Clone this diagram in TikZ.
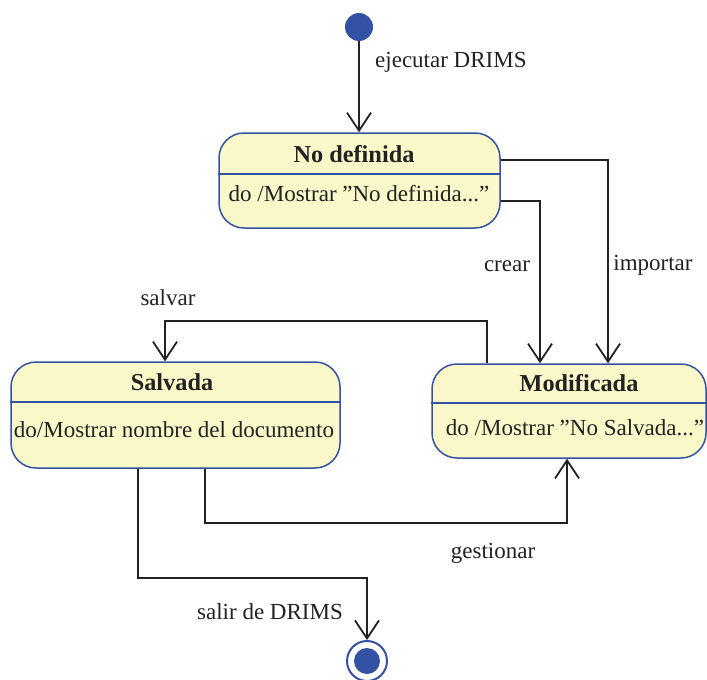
\documentclass[tikz,border=0pt]{standalone}
\usepackage{fontspec}
\setmainfont{LiberationSerif}[
  Extension=.ttf,
  UprightFont=*-Regular,
  BoldFont=*-Bold,
  ItalicFont=*-Italic,
  BoldItalicFont=*-BoldItalic,
  Ligatures=NoCommon]
\usetikzlibrary{arrows.meta}
\definecolor{stateblue}{RGB}{52,82,163}
\definecolor{statefill}{RGB}{250,247,201}
\definecolor{ink}{RGB}{34,34,34}
\tikzset{
  statebox/.style={draw=stateblue, line width=1.5pt, fill=statefill, rounded corners=25pt, inner sep=0pt},
  sepline/.style={draw=stateblue, line width=1.5pt},
  title/.style={font=\fontsize{24.3}{28}\selectfont\bfseries, text=ink, inner sep=0pt},
  body/.style={font=\fontsize{23}{26}\selectfont, text=ink, inner sep=0pt},
  lbl/.style={font=\fontsize{23}{26}\selectfont, text=ink, inner sep=0pt},
  arr/.style={draw=ink, line width=1.8pt, -{Straight Barb[length=18pt,width=24pt,line width=1.8pt]}}
}
\newcommand{\dq}{\char34\relax}
\begin{document}
\begin{tikzpicture}[x=1pt,y=-1pt]
\useasboundingbox (0,0) rectangle (707,680);

% initial and final pseudo-states
\node[circle, fill=stateblue, minimum size=28pt, inner sep=0pt] (init) at (359,27) {};
\node[circle, draw=stateblue, line width=2pt, fill=white, minimum size=40pt, inner sep=0pt] (fin) at (367,661) {};
\node[circle, fill=stateblue, minimum size=26pt, inner sep=0pt] (finc) at (fin.center) {};

% states
\node[statebox, minimum width=281pt, minimum height=95pt] (nd) at (359.5,180.5) {};
\draw[sepline] (nd.west |- 0,174) -- (nd.east |- 0,174);
\node[title] (ndt) at (354,154) {No definida};
\node[body] (ndb) at (359,194) {do /Mostrar \dq No definida...\dq};

\node[statebox, minimum width=329pt, minimum height=106pt] (sal) at (175.5,415) {};
\draw[sepline] (sal.west |- 0,402) -- (sal.east |- 0,402);
\node[title] (salt) at (172,382) {Salvada};
\node[body] (salb) at (174,430) {do/Mostrar nombre del documento};

\node[statebox, minimum width=274pt, minimum height=94pt] (mod) at (569,411) {};
\draw[sepline] (mod.west |- 0,403) -- (mod.east |- 0,403);
\node[title] (modt) at (579,383) {Modificada};
\node[body] (modb) at (575,428) {do /Mostrar \dq No Salvada...\dq};

% transitions
\draw[arr] (init) -- (init |- nd.north);
\draw[arr] (nd.east |- 0,160) -| (mod.north -| 608,0);
\draw[arr] (nd.east |- 0,201) -| (mod.north -| 540,0);
\draw[arr] (mod.north -| 487,0) -- ++(0,-42) -| (sal.north -| 165,0);
\draw[arr] (sal.south -| 205,0) -- ++(0,54) -| (mod.south -| 567,0);
\draw[arr] (sal.south -| 138,0) -- ++(0,109) -| (fin.north);

% transition labels
\node[lbl, anchor=west] (l1) at (375,62) {ejecutar DRIMS};
\node[lbl] (l2) at (653,265) {importar};
\node[lbl] (l3) at (507,266) {crear};
\node[lbl] (l4) at (168,298) {salvar};
\node[lbl] (l5) at (493,553) {gestionar};
\node[lbl] (l6) at (270,612) {salir de DRIMS};
\end{tikzpicture}
\end{document}
